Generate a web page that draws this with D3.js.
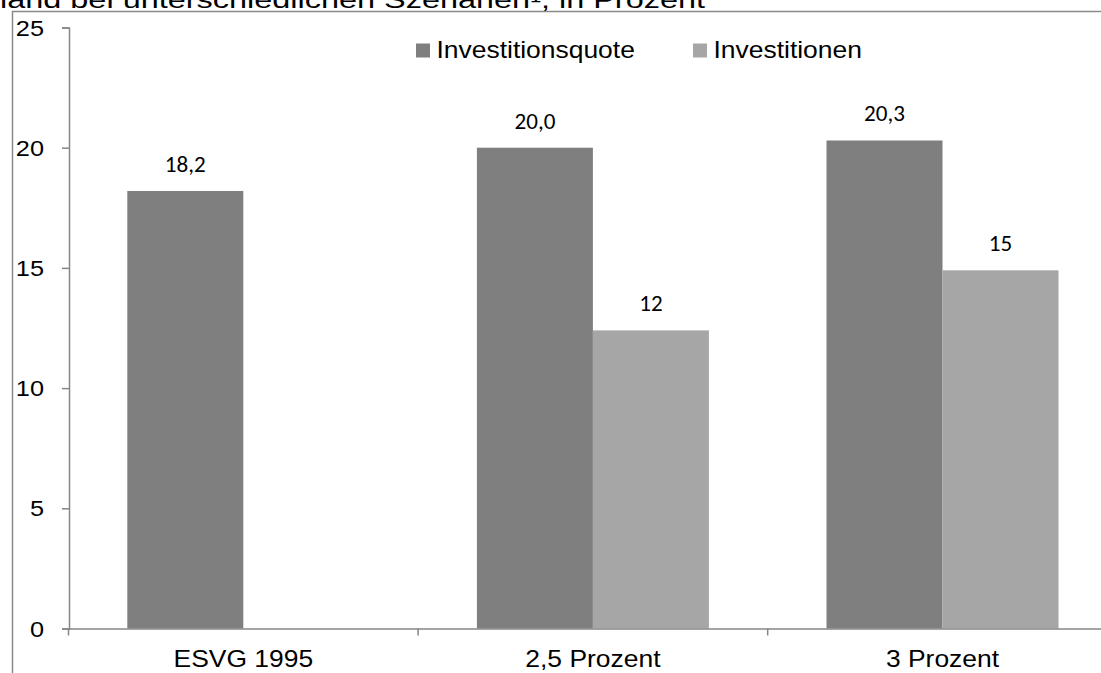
<!DOCTYPE html>
<html><head><meta charset="utf-8">
<script src="https://cdn.jsdelivr.net/npm/d3@7"></script>
<style>html,body{margin:0;padding:0;background:#fff;overflow:hidden}</style>
</head><body>
<svg id="c" width="1101" height="673"></svg>
<script>
const titleText = "land bei unterschiedlichen Szenarien¹, in Prozent";
const categories = ["ESVG 1995", "2,5 Prozent", "3 Prozent"];
const seriesNames = ["Investitionsquote", "Investitionen"];
const quoteValues = [18.2, 20.0, 20.3];
const investValues = [null, 12.4, 14.9];
const quoteLabels = ["18,2", "20,0", "20,3"];
const investLabels = [null, "12", "15"];
const yTicks = [0, 5, 10, 15, 20, 25];
const colors = ["#7f7f7f", "#a6a6a6"];

const SX = 1.15;
const svg = d3.select("#c");
const x0 = d3.scaleBand().domain(categories).range([68.5, 68.5 + 3 * 349.6]).padding(0);
const x1 = d3.scaleBand().domain(seriesNames).range([0, x0.bandwidth()]).paddingInner(0).paddingOuter(0.507);
const y = d3.scaleLinear().domain([0, 25]).range([628.5, 27.5]);

function stext(g, x, yy, txt, opts) {
  return g.append("text").attr("transform", `translate(${x},${yy}) scale(${opts.sx || SX},1)`)
    .attr("text-anchor", opts.anchor || "middle")
    .attr("font-family", opts.font || "Arial, 'Liberation Sans', sans-serif")
    .attr("font-size", opts.size || 23).attr("fill", "#000").text(txt);
}

// title (cut off at top)
svg.append("text").attr("x", 0).attr("y", 8).attr("font-family", "Arial, 'Liberation Sans', sans-serif")
  .attr("font-size", 23).attr("textLength", 705).attr("lengthAdjust", "spacingAndGlyphs").text(titleText);

// frame
svg.append("rect").attr("x", 12.5).attr("y", 11.5).attr("width", 1200).attr("height", 800)
  .attr("fill", "none").attr("stroke", "#8a8a8a").attr("stroke-width", 1.5);

// bars
const data = [];
categories.forEach((c, i) => {
  data.push({c, s: seriesNames[0], v: quoteValues[i], l: quoteLabels[i]});
  data.push({c, s: seriesNames[1], v: investValues[i], l: investLabels[i]});
});
const valid = data.filter(d => d.v != null);
svg.append("g").selectAll("rect").data(valid).join("rect")
  .attr("x", d => x0(d.c) + x1(d.s)).attr("width", x1.bandwidth())
  .attr("y", d => y(d.v)).attr("height", d => y(0) - y(d.v))
  .attr("fill", d => colors[seriesNames.indexOf(d.s)]);

// value labels
const lg = svg.append("g");
valid.forEach(d => {
  stext(lg, x0(d.c) + x1(d.s) + x1.bandwidth() / 2, y(d.v) - 19, d.l,
    {font: "Carlito, Lato, 'Open Sans', sans-serif", size: 22, sx: 1.05});
});

// y axis
const yAxis = d3.axisLeft(y).tickValues(yTicks).tickSize(7).tickFormat("");
const ya = svg.append("g").attr("transform", "translate(69,0)").call(yAxis);
ya.selectAll("path,line").attr("stroke", "#868686").attr("stroke-width", 1.5);
const yl = svg.append("g");
yTicks.forEach(t => stext(yl, 44, y(t) + 8, String(t), {anchor: "end", size: 22}));

// x axis
const xAxis = d3.axisBottom(x0).tickSize(0).tickFormat("");
const xa = svg.append("g").attr("transform", `translate(0,${y(0)})`).call(xAxis);
xa.select("path").attr("stroke", "#868686").attr("stroke-width", 1.5);
xa.selectAll(".tick").remove();
const bounds = categories.map(c => x0(c)).concat([x0.range()[1]]);
svg.append("g").selectAll("line").data(bounds).join("line")
  .attr("x1", d => d).attr("x2", d => d).attr("y1", y(0)).attr("y2", y(0) + 7)
  .attr("stroke", "#868686").attr("stroke-width", 1.5);
const xl = svg.append("g");
categories.forEach(c => stext(xl, x0(c) + x0.bandwidth() / 2, 667, c, {size: 23}));

// legend
const leg = svg.append("g");
const legX = [416, 693];
seriesNames.forEach((s, i) => {
  leg.append("rect").attr("x", legX[i]).attr("y", 43.5).attr("width", 14).attr("height", 14).attr("fill", colors[i]);
  stext(leg, legX[i] + 20.5, 58, s, {anchor: "start", size: 23});
});
</script>
</body></html>
